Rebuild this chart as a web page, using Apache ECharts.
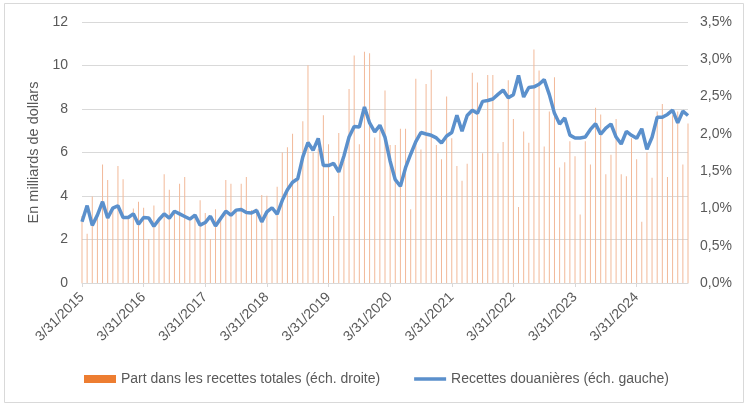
<!DOCTYPE html>
<html><head><meta charset="utf-8">
<script src="https://cdn.jsdelivr.net/npm/echarts@6/dist/echarts.min.js"></script>
<style>html,body{margin:0;padding:0;background:#fff}#c{width:754px;height:409px}</style>
</head><body><div id="c"></div>
<script>
// Monthly categories: month-end dates from March 2015 (119 months)
function monthEnd(y, m) { return new Date(y, m, 0).getDate(); }
const startYear = 2015, startMonth = 3, nMonths = 119;
const categories = [];
for (let k = 0; k < nMonths; k++) {
  const mm = (startMonth - 1 + k) % 12 + 1;
  const yy = startYear + Math.floor((startMonth - 1 + k) / 12);
  categories.push(mm + '/' + monthEnd(yy, mm) + '/' + yy);
}

// Recettes douanières (milliards de dollars, échelle gauche)
const customsRevenue = [
  2.82,3.56,2.65,3.12,3.74,2.99,3.44,3.55,3.01,3.01,3.18,2.70,
  3.01,2.99,2.61,2.92,3.18,2.98,3.30,3.18,3.06,2.94,3.12,2.66,
  2.78,3.07,2.62,2.97,3.30,3.12,3.35,3.38,3.24,3.22,3.34,2.81,
  3.27,3.46,3.17,3.80,4.29,4.63,4.79,5.80,6.46,6.10,6.65,5.40,
  5.40,5.50,5.11,5.84,6.71,7.20,7.17,8.09,7.36,6.95,7.25,6.70,
  5.60,4.75,4.45,5.30,5.92,6.50,6.92,6.85,6.79,6.67,6.44,6.76,
  6.92,7.71,6.98,7.70,7.94,7.80,8.35,8.39,8.46,8.67,8.87,8.52,
  8.66,9.54,8.55,8.99,9.02,9.14,9.35,8.66,7.80,7.31,7.59,6.80,
  6.67,6.67,6.71,7.06,7.32,6.84,7.12,7.31,6.71,6.39,6.97,6.79,
  6.65,7.09,6.15,6.70,7.62,7.62,7.75,7.95,7.36,7.90,7.70
];

// Part dans les recettes totales (%, échelle droite)
const shareOfTotal = [
  0.90,0.66,1.16,0.95,1.59,1.38,1.00,1.57,1.39,0.90,1.00,1.09,
  1.01,0.59,1.04,0.88,1.46,1.25,0.95,1.33,1.42,0.88,0.92,1.11,
  0.94,0.59,0.99,0.90,1.38,1.33,0.97,1.33,1.42,0.98,1.00,1.18,
  1.17,0.59,1.29,1.75,1.82,2.00,1.38,2.17,2.92,1.75,1.80,2.25,
  1.86,0.90,2.01,1.65,2.60,3.05,1.86,3.10,3.08,1.95,2.05,2.58,
  1.85,1.85,2.07,2.07,0.99,2.74,1.79,2.67,2.86,1.85,1.66,2.50,
  1.94,1.57,1.37,1.60,2.82,2.69,1.74,2.79,2.79,1.74,1.89,2.72,
  2.20,1.02,2.03,1.88,3.13,2.85,1.83,2.30,2.76,1.55,1.62,1.90,
  1.70,0.92,1.90,1.59,2.35,2.26,1.46,1.72,2.20,1.46,1.43,1.94,
  1.66,0.82,1.75,1.41,2.30,2.40,1.42,2.25,2.30,1.59,2.14
];

const leftTicks = { min: 0, max: 12, interval: 2 };
const rightTicks = { min: 0, max: 3.5, interval: 0.5 };
const seriesNames = ['Part dans les recettes totales (éch. droite)', 'Recettes douanières (éch. gauche)'];
const leftAxisName = 'En milliards de dollars';

const FONT = 'Liberation Sans';
const TXT = '#595959';
const BLUE = '#5b90cc';
const chart = echarts.init(document.getElementById('c'), null, { renderer: 'canvas' });
chart.setOption({
  animation: false,
  backgroundColor: '#fff',
  textStyle: { fontFamily: FONT },
  graphic: [{
    type: 'rect', shape: { x: 4.5, y: 3.5, width: 739, height: 399 },
    style: { fill: 'none', stroke: '#d9d9d9', lineWidth: 1 }, z: -1
  }],
  grid: { left: 82, right: 66, top: 22, bottom: 126 },
  legend: {
    left: 79, top: 367,
    itemWidth: 32, itemHeight: 8, itemGap: 34,
    textStyle: { color: TXT, fontSize: 14, fontFamily: FONT },
    data: [
      { name: seriesNames[0], icon: 'rect', itemStyle: { color: '#ED7D31', opacity: 1 } },
      { name: seriesNames[1],
        icon: 'path://M0,0 L32,0 L32,0.01 Z M0,2.2 H32 V5.8 H0 Z M0,8 L32,8 L32,7.99 Z',
        itemStyle: { color: BLUE } }
    ]
  },
  xAxis: {
    type: 'category', data: categories, boundaryGap: false,
    axisLine: { lineStyle: { color: '#d9d9d9' } },
    axisTick: { interval: 11, length: 4, lineStyle: { color: '#d9d9d9' } },
    axisLabel: { interval: 11, rotate: 45, color: TXT, fontSize: 14, fontFamily: FONT, margin: 12 },
    splitLine: { show: false }
  },
  yAxis: [{
    type: 'value', min: leftTicks.min, max: leftTicks.max, interval: leftTicks.interval,
    name: leftAxisName, nameLocation: 'middle', nameGap: 33, nameRotate: 90,
    nameTextStyle: { color: TXT, fontSize: 14.5, fontFamily: FONT },
    axisLine: { show: false }, axisTick: { show: false },
    axisLabel: { color: TXT, fontSize: 14, fontFamily: FONT, margin: 14 },
    splitLine: { lineStyle: { color: '#d9d9d9', width: 1 } }
  }, {
    type: 'value', min: rightTicks.min, max: rightTicks.max, interval: rightTicks.interval,
    axisLine: { show: false }, axisTick: { show: false },
    axisLabel: { color: TXT, fontSize: 14, fontFamily: FONT, margin: 12,
      formatter: v => v.toFixed(1).replace('.', ',') + '%' },
    splitLine: { show: false }
  }],
  series: [{
    name: seriesNames[0], type: 'bar', yAxisIndex: 1, data: shareOfTotal,
    barWidth: 1, itemStyle: { color: '#f2b999' }, z: 1
  }, {
    name: seriesNames[1], type: 'line', yAxisIndex: 0, data: customsRevenue,
    symbol: 'none', showSymbol: false,
    lineStyle: { color: BLUE, width: 3.5 }, itemStyle: { color: BLUE }, z: 3
  }]
});
</script></body></html>
